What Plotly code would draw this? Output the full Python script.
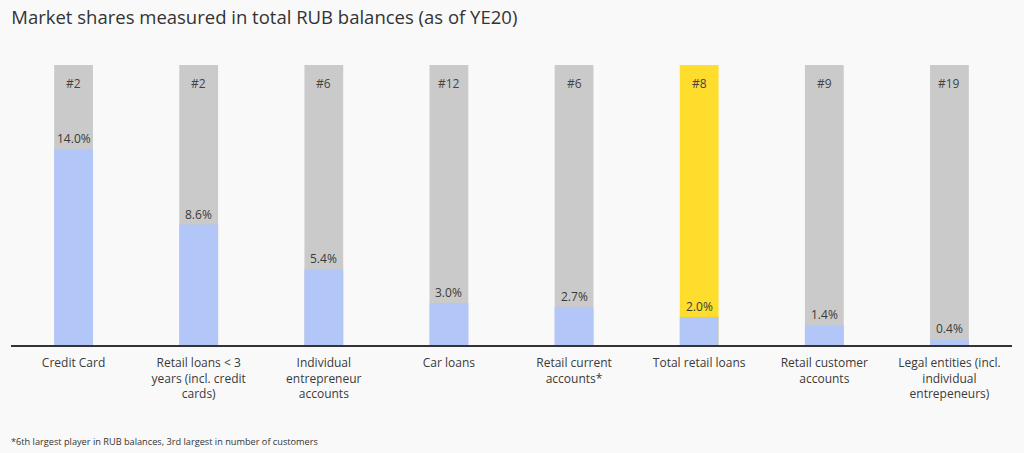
import plotly.graph_objects as go

categories = ['Credit Card', 'Retail loans < 3<br>years (incl. credit<br>cards)',
              'Individual<br>entrepreneur<br>accounts', 'Car loans',
              'Retail current<br>accounts*', 'Total retail loans',
              'Retail customer<br>accounts', 'Legal entities (incl.<br>individual<br>entrepeneurs)']
shares = [14.0, 8.6, 5.4, 3.0, 2.7, 2.0, 1.4, 0.4]
ranks = ['#2', '#2', '#6', '#12', '#6', '#8', '#9', '#19']
full = [20] * len(categories)
highlight = 'Total retail loans'

x = list(range(len(categories)))
bg_colors = ['#ffdd2d' if c == highlight else '#cacaca' for c in categories]

fig = go.Figure()
fig.add_trace(go.Bar(x=x, y=full, marker=dict(color=bg_colors, line=dict(width=0)),
                     width=0.31, hoverinfo='skip'))
fig.add_trace(go.Bar(x=x, y=shares, marker=dict(color='#b3c6f8', line=dict(width=0)),
                     width=0.31))

for i in x:
    fig.add_annotation(x=i, y=shares[i], text=f'{shares[i]:.1f}%', showarrow=False,
                       yanchor='bottom', yshift=0, font=dict(size=12, color='#3a3a3a'))
    fig.add_annotation(x=i, y=full[i], text=ranks[i], showarrow=False,
                       yanchor='top', yshift=-8, font=dict(size=12, color='#444444'))

fig.update_layout(
    barmode='overlay',
    showlegend=False,
    width=1024, height=453,
    margin=dict(l=11, r=12, t=65, b=108),
    paper_bgcolor='#f9f9f9',
    plot_bgcolor='#f9f9f9',
    font=dict(family='Open Sans, sans-serif', size=12, color='#444444'),
    title=dict(text='Market shares measured in total RUB balances (as of YE20)', x=0.011, xanchor='left',
               y=0.962, yanchor='middle', font=dict(size=18.5, color='#333333')),
    xaxis=dict(tickmode='array', tickvals=x, ticktext=categories, range=[-0.5, 7.5],
               showline=True, linecolor='#333333', linewidth=1.5, showgrid=False,
               ticks='', ticklabelstandoff=6, tickfont=dict(size=12, color='#3a3a3a'), fixedrange=True),
    yaxis=dict(range=[0, 20], visible=False, fixedrange=True),
)
# footnote
fig.add_annotation(xref='paper', yref='paper', x=-0.002, y=0, yshift=-96, xanchor='left', yanchor='middle',
                   text='*6th largest player in RUB balances, 3rd largest in number of customers',
                   showarrow=False, font=dict(size=9.2, color='#333333'))

fig.write_html('out.html', config={'displayModeBar': False},
               post_script="document.body.style.margin='0';document.body.style.background='#f9f9f9';")
